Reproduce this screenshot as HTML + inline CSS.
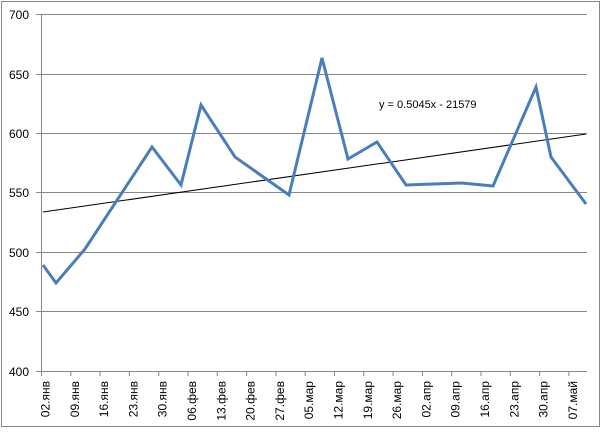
<!DOCTYPE html>
<html><head><meta charset="utf-8"><style>
body{margin:0;background:#fff}
svg text{font-family:"Liberation Sans",sans-serif}
</style></head><body>
<svg width="603" height="429" xmlns="http://www.w3.org/2000/svg">
<rect x="1.5" y="1.5" width="598" height="425" fill="#fff" stroke="#888" stroke-width="1"/>
<g stroke="#878787" stroke-width="1">
<line x1="36" y1="14.5" x2="587" y2="14.5"/>
<line x1="36" y1="74.5" x2="587" y2="74.5"/>
<line x1="36" y1="133.5" x2="587" y2="133.5"/>
<line x1="36" y1="192.5" x2="587" y2="192.5"/>
<line x1="36" y1="252.5" x2="587" y2="252.5"/>
<line x1="36" y1="311.5" x2="587" y2="311.5"/>
<line x1="36" y1="371.5" x2="587" y2="371.5"/>
<line x1="41.5" y1="14" x2="41.5" y2="376"/>
</g>
<g stroke="#878787" stroke-width="1" id="ticks"></g>
<g font-size="12" fill="#000" text-anchor="end">
<text x="29" y="19">700</text>
<text x="29" y="79">650</text>
<text x="29" y="138">600</text>
<text x="29" y="197">550</text>
<text x="29" y="257">500</text>
<text x="29" y="316">450</text>
<text x="29" y="376">400</text>
</g>
<g font-size="12" fill="#000" id="xl"></g>
<line x1="43" y1="212" x2="586" y2="134" stroke="#000" stroke-width="1"/>
<polyline fill="none" stroke="#4a7ebb" stroke-width="3" stroke-linejoin="miter" points="43,265 56,283 85,249 152,147 181,185 201,105 235,157 289,195 322,58 348,159 377,142 406,185 462,183 493,186 536,87 551,157 586,204"/>
<text x="379" y="108" font-size="11" fill="#000">y = 0.5045x - 21579</text>
<script>
var t=document.getElementById('ticks'),xl=document.getElementById('xl');
var labs=["02.янв","09.янв","16.янв","23.янв","30.янв","06.фев","13.фев","20.фев","27.фев","05.мар","12.мар","19.мар","26.мар","02.апр","09.апр","16.апр","23.апр","30.апр","07.май"];
var ns="http://www.w3.org/2000/svg";
for(var i=0;i<19;i++){var x=41.5+29.3*i;
var l=document.createElementNS(ns,'line');l.setAttribute('x1',x);l.setAttribute('x2',x);l.setAttribute('y1',371);l.setAttribute('y2',376);t.appendChild(l);
var tx=document.createElementNS(ns,'text');var cx=x+8;tx.setAttribute('x',cx);tx.setAttribute('y',381);tx.setAttribute('text-anchor','end');tx.setAttribute('transform','rotate(-90 '+cx+' 381)');tx.textContent=labs[i];xl.appendChild(tx);}
</script>
</svg>
</body></html>
